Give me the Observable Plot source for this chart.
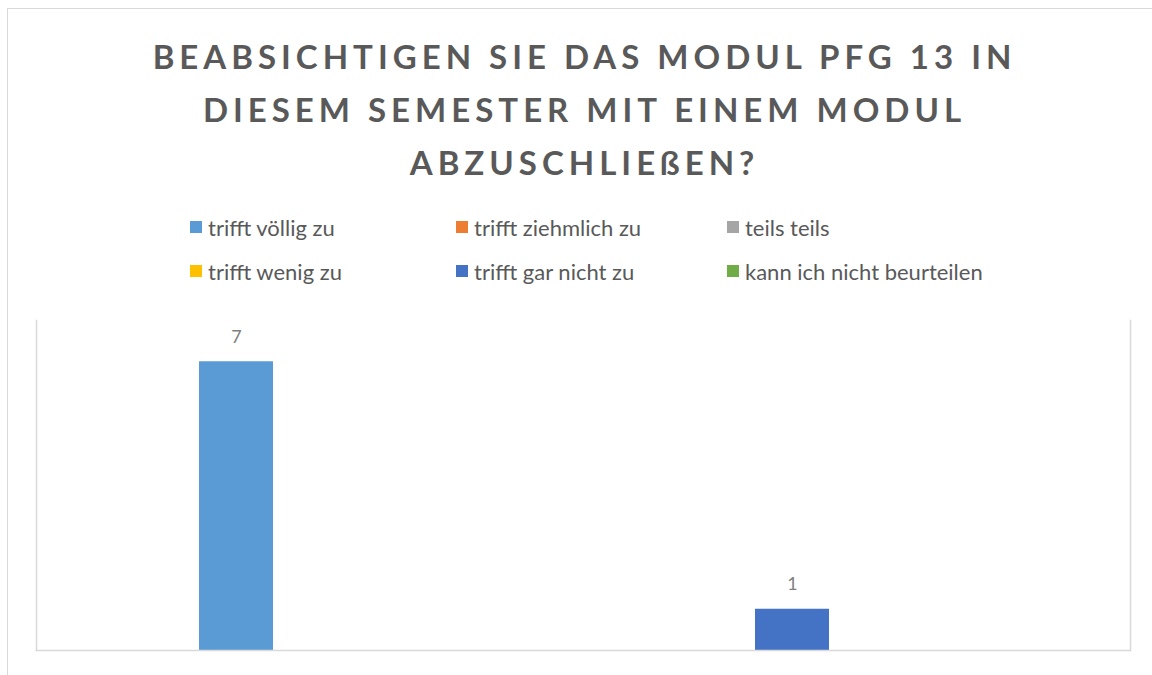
<!DOCTYPE html>
<html><head><meta charset="utf-8">
<script src="https://cdn.jsdelivr.net/npm/d3@7"></script>
<script src="https://cdn.jsdelivr.net/npm/@observablehq/plot@0.6"></script>
<style>
body{margin:0;background:#fff;}
#chart{position:relative;width:1152px;height:675px;overflow:hidden;font-family:Lato,sans-serif;background:#fff;}
#border{position:absolute;left:7px;top:8px;width:1200px;height:700px;border-left:1.5px solid #d9d9d9;border-top:1.5px solid #d9d9d9;}
#title{position:absolute;left:0;width:1169px;top:30px;text-align:center;font-weight:700;font-size:33px;letter-spacing:5px;color:#595959;line-height:53px;}
.leg{position:absolute;display:flex;align-items:center;font-size:22px;color:#595959;height:26px;white-space:nowrap;}
.sw{width:12px;height:12px;margin-right:6px;flex:none;}
#plot{position:absolute;left:0;top:300px;}
</style>
</head><body>
<div id="chart">
  <div id="border"></div>
  <div id="title"></div>
  <div id="legend"></div>
  <div id="plot"></div>
</div>
<script>
const titleLines = ["BEABSICHTIGEN SIE DAS MODUL PFG 13 IN", "DIESEM SEMESTER MIT EINEM MODUL", "ABZUSCHLIEßEN?"];
const series = ["trifft völlig zu", "trifft ziehmlich zu", "teils teils", "trifft wenig zu", "trifft gar nicht zu", "kann ich nicht beurteilen"];
const values = [7, 0, 0, 0, 1, 0];
const colors = ["#5B9BD5", "#ED7D31", "#A5A5A5", "#FFC000", "#4472C4", "#70AD47"];

const data = series.map((s, i) => ({series: s, value: values[i]}));

// title
document.getElementById("title").innerHTML = titleLines.join("<br>");

// legend (3 columns x 2 rows)
const legCols = [190, 456, 727];
const legRows = [214, 258];
const legend = document.getElementById("legend");
series.forEach((s, i) => {
  const el = document.createElement("div");
  el.className = "leg";
  el.style.left = legCols[i % 3] + "px";
  el.style.top = legRows[Math.floor(i / 3)] + "px";
  const sw = document.createElement("span");
  sw.className = "sw";
  sw.style.background = colors[i];
  const t = document.createElement("span");
  t.textContent = s;
  el.appendChild(sw); el.appendChild(t);
  legend.appendChild(el);
});

const chart = Plot.plot({
  width: 1152, height: 375,
  marginTop: 20, marginBottom: 25, marginLeft: 36, marginRight: 22,
  x: {domain: series, range: [198, 968], paddingInner: 0.47, paddingOuter: 0, axis: null},
  y: {domain: [0, 8], axis: null},
  color: {domain: series, range: colors},
  style: {fontFamily: "Lato, sans-serif", background: "transparent"},
  marks: [
    Plot.barY(data, {x: "series", y: "value", fill: "series"}),
    Plot.text(data.filter(d => d.value > 0), {x: "series", y: "value", text: d => String(d.value), dy: -25, fill: "#7f7f7f", fontSize: 18}),
    Plot.frame({anchor: "left", stroke: "#d9d9d9", strokeWidth: 1.5}),
    Plot.frame({anchor: "right", stroke: "#d9d9d9", strokeWidth: 1.5}),
    Plot.frame({anchor: "bottom", stroke: "#d9d9d9", strokeWidth: 1.5})
  ]
});
document.getElementById("plot").appendChild(chart);
</script>
</body></html>
